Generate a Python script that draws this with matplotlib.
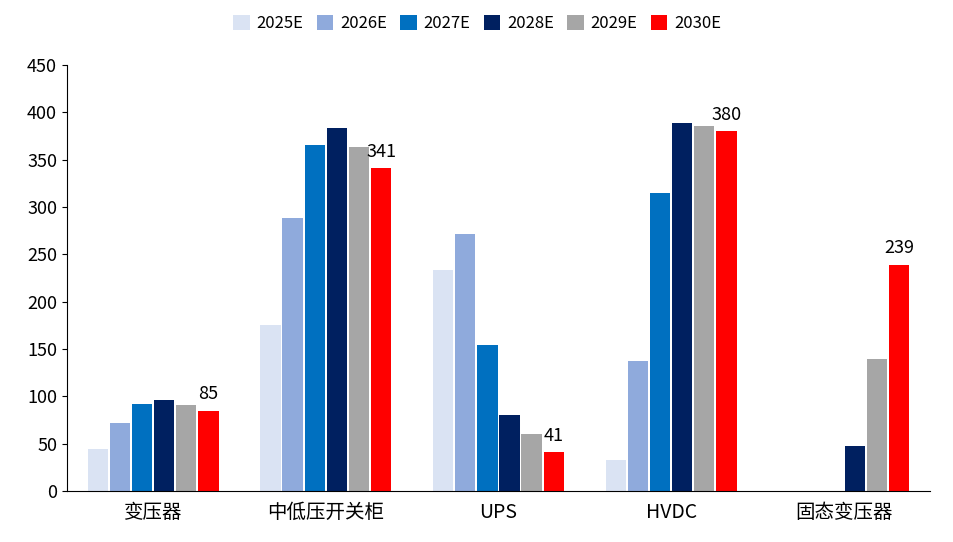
import matplotlib
matplotlib.use("Agg")
import matplotlib.pyplot as plt
import numpy as np

plt.rcParams['font.family'] = ['Noto Sans CJK SC', 'DejaVu Sans']

categories = ['变压器', '中低压开关柜', 'UPS', 'HVDC', '固态变压器']
series = ['2025E', '2026E', '2027E', '2028E', '2029E', '2030E']
values = [
    [44, 175, 233, 33, 0],
    [72, 288, 271, 137, 0],
    [92, 366, 154, 315, 0],
    [96, 384, 80, 389, 48],
    [91, 363, 60, 386, 140],
    [85, 341, 41, 380, 239],
]
colors = ['#DAE3F3', '#8FAADC', '#0070C0', '#002060', '#A6A6A6', '#FF0000']

fig = plt.figure(figsize=(9.54, 5.42), dpi=100)
ax = fig.add_axes([0.070, 0.094, 0.905, 0.786])
x = np.arange(len(categories))
w = 0.128
for i, (s, v, c) in enumerate(zip(series, values, colors)):
    bars = ax.bar(x + (i - 2.5) * w, v, w * 0.92, color=c, label=s)
    if i == 5:
        for b, val in zip(bars, v):
            ax.text(b.get_x() + b.get_width() / 2, val + 8, str(val),
                    ha='center', va='bottom', fontsize=13)
ax.set_xlim(-0.5, 4.5)
ax.set_ylim(0, 450)
ax.set_yticks(range(0, 451, 50))
ax.set_xticks(x)
ax.set_xticklabels(categories, fontsize=14)
ax.tick_params(axis='y', labelsize=13)
ax.tick_params(axis='x', length=0, pad=8)
ax.spines['top'].set_visible(False)
ax.spines['right'].set_visible(False)
fig.legend(loc='upper center', ncol=6, frameon=False, fontsize=12,
           bbox_to_anchor=(0.5, 1.0), handlelength=1.0, handleheight=1.0,
           columnspacing=0.8, handletextpad=0.4)
fig.savefig('out.png', dpi=100)
